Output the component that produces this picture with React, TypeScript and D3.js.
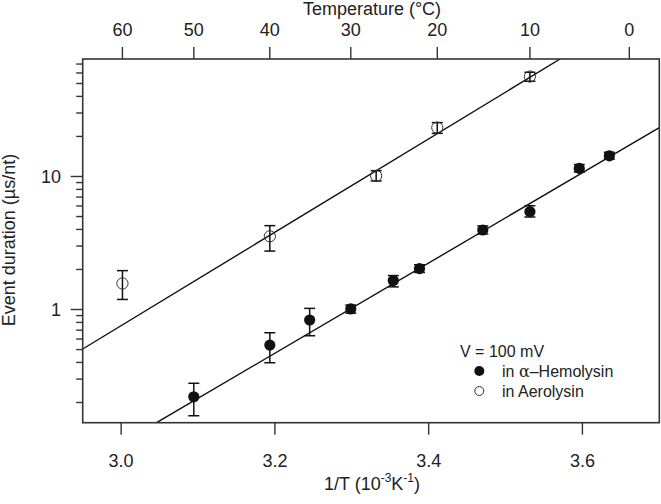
import React from "react";
import * as d3 from "d3";

// ---- data ----
// alpha-Hemolysin (filled) : x = 1/T (10^-3 K^-1), event duration (µs/nt)
const hemoInvT = [3.0945, 3.1934, 3.2452, 3.2987, 3.354, 3.3881, 3.4704, 3.5317, 3.5959, 3.635];
const hemoValues = [0.221, 0.54, 0.834, 1.01, 1.65, 2.03, 3.96, 5.44, 11.5, 14.3];
const hemoLow = [0.159, 0.398, 0.635, 0.94, 1.48, 1.9, 3.7, 4.96, 10.8, 13.5];
const hemoHigh = [0.279, 0.669, 1.02, 1.08, 1.8, 2.17, 4.25, 6.03, 12.3, 15.2];

// Aerolysin (open)
const aeroInvT = [3.0017, 3.1934, 3.3317, 3.4112, 3.5317];
const aeroValues = [1.57, 3.55, 10.1, 23.3, 56.4];
const aeroLow = [1.19, 2.75, 9.25, 21.1, 52.0];
const aeroHigh = [1.96, 4.27, 11.06, 25.4, 60.7];

// fitted lines (end points)
const hemoFitX = [3.046, 3.7];
const hemoFitY = [0.141, 23.3];
const aeroFitX = [2.95, 3.571];
const aeroFitY = [0.505, 76.4];

// axes
const xDomain = [2.95, 3.7];
const yDomain = [0.141, 76.4];
const bottomTicks = [3.0, 3.2, 3.4, 3.6];
const topTempTicks = [60, 50, 40, 30, 20, 10, 0];
const yMajorTicks = [1, 10];
const yMinorTicks = [0.2, 0.3, 0.4, 0.5, 0.6, 0.7, 0.8, 0.9, 2, 3, 4, 5, 6, 7, 8, 9, 20, 30, 40, 50, 60, 70];

const W = 661;
const H = 504;
const L = 82.7, R = 659.3, T = 59, B = 422.7;
const FONT = "'Liberation Sans', Arial, Helvetica, sans-serif";
const AX = "#333";

export default function App() {
  const x = d3.scaleLinear().domain(xDomain).range([L, R]);
  const y = d3.scaleLog().domain(yDomain).range([B, T]);
  const line = d3.line<[number, number]>().x((d) => x(d[0])).y((d) => y(d[1]));
  const hemoFit = hemoFitX.map((v, i) => [v, hemoFitY[i]] as [number, number]);
  const aeroFit = aeroFitX.map((v, i) => [v, aeroFitY[i]] as [number, number]);
  const cap = 5.5;
  const rPt = 5.6;

  return (
    <div style={{ position: "fixed", left: 0, top: 0 }}>
      <svg width={W} height={H} style={{ display: "block", background: "#fff" }} fontFamily={FONT}>
        <defs>
          <clipPath id="plot">
            <rect x={L} y={T} width={R - L} height={B - T} />
          </clipPath>
        </defs>
        {/* fit lines */}
        <g clipPath="url(#plot)" stroke="#111" strokeWidth={1.4} fill="none">
          <path d={line(hemoFit) || ""} />
          <path d={line(aeroFit) || ""} />
        </g>
        {/* error bars */}
        <g stroke="#111" strokeWidth={1.5}>
          {hemoInvT.map((v, i) => (
            <g key={"he" + i}>
              <line x1={x(v)} x2={x(v)} y1={y(hemoLow[i])} y2={y(hemoHigh[i])} />
              <line x1={x(v) - cap} x2={x(v) + cap} y1={y(hemoLow[i])} y2={y(hemoLow[i])} />
              <line x1={x(v) - cap} x2={x(v) + cap} y1={y(hemoHigh[i])} y2={y(hemoHigh[i])} />
            </g>
          ))}
          {aeroInvT.map((v, i) => (
            <g key={"ae" + i}>
              <line x1={x(v)} x2={x(v)} y1={y(aeroLow[i])} y2={y(aeroHigh[i])} />
              <line x1={x(v) - cap} x2={x(v) + cap} y1={y(aeroLow[i])} y2={y(aeroLow[i])} />
              <line x1={x(v) - cap} x2={x(v) + cap} y1={y(aeroHigh[i])} y2={y(aeroHigh[i])} />
            </g>
          ))}
        </g>
        {/* markers */}
        {hemoInvT.map((v, i) => (
          <circle key={"hm" + i} cx={x(v)} cy={y(hemoValues[i])} r={rPt} fill="#111" />
        ))}
        {aeroInvT.map((v, i) => (
          <circle key={"am" + i} cx={x(v)} cy={y(aeroValues[i])} r={rPt} fill="none" stroke="#333" strokeWidth={1} />
        ))}
        {/* frame */}
        <rect x={L} y={T} width={R - L} height={B - T} fill="none" stroke={AX} strokeWidth={1.6} />
        {/* bottom axis */}
        {bottomTicks.map((t) => (
          <g key={"bt" + t}>
            <line x1={x(t)} x2={x(t)} y1={B} y2={B + 12} stroke={AX} strokeWidth={1.4} />
            <text x={x(t)} y={466.5} fontSize={18} textAnchor="middle" fill="#222">
              {d3.format(".1f")(t)}
            </text>
          </g>
        ))}
        <text x={372} y={490} fontSize={18} textAnchor="middle" fill="#222">
          1/T (10
          <tspan fontSize={12} dy={-8}>-3</tspan>
          <tspan dy={8}>K</tspan>
          <tspan fontSize={12} dy={-8}>-1</tspan>
          <tspan dy={8}>)</tspan>
        </text>
        {/* top axis */}
        {topTempTicks.map((t) => {
          const xv = x(1000 / (t + 273.15));
          return (
            <g key={"tt" + t}>
              <line x1={xv} x2={xv} y1={T} y2={T - 12} stroke={AX} strokeWidth={1.4} />
              <text x={xv} y={36} fontSize={18} textAnchor="middle" fill="#222">
                {t}
              </text>
            </g>
          );
        })}
        <text x={372} y={14.5} fontSize={18} textAnchor="middle" fill="#222">
          Temperature (°C)
        </text>
        {/* left axis */}
        {yMajorTicks.map((t) => (
          <g key={"ym" + t}>
            <line x1={L} x2={L - 12} y1={y(t)} y2={y(t)} stroke={AX} strokeWidth={1.4} />
            <text x={61} y={y(t) + 6.5} fontSize={18} textAnchor="end" fill="#222">
              {t}
            </text>
          </g>
        ))}
        {yMinorTicks.map((t) => (
          <line key={"yn" + t} x1={L} x2={L - 6.5} y1={y(t)} y2={y(t)} stroke={AX} strokeWidth={1.4} />
        ))}
        <text
          transform={`translate(15,240) rotate(-90)`}
          fontSize={18}
          textAnchor="middle"
          fill="#222"
        >
          Event duration (µs/nt)
        </text>
        {/* legend */}
        <text x={460} y={356.5} fontSize={16} fill="#222">V = 100 mV</text>
        <circle cx={479.3} cy={371} r={5} fill="#111" />
        <text x={502} y={376.5} fontSize={16} fill="#222">
          in <tspan fontFamily="'DejaVu Serif', 'Liberation Serif', serif">α</tspan>–Hemolysin
        </text>
        <circle cx={479.3} cy={391} r={4.5} fill="none" stroke="#333" strokeWidth={1} />
        <text x={502} y={396.5} fontSize={16} fill="#222">in Aerolysin</text>
      </svg>
    </div>
  );
}
